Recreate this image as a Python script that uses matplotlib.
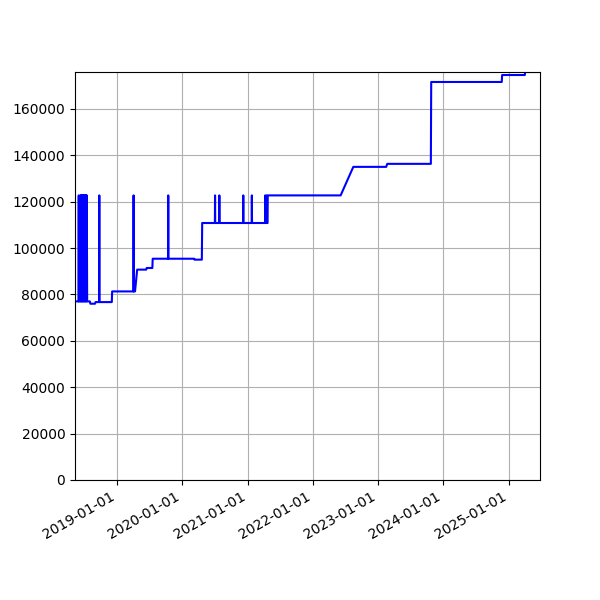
import pandas as pd
import matplotlib
matplotlib.use('Agg')
import matplotlib.pyplot as plt
import matplotlib.dates as mdates

dates = [
    '2018-05-11', '2018-05-31', '2018-06-01', '2018-06-02',
    '2018-06-08', '2018-06-10', '2018-06-12', '2018-06-14', '2018-06-16', '2018-06-18',
    '2018-06-20', '2018-06-22', '2018-06-24', '2018-06-26', '2018-06-28', '2018-06-30',
    '2018-07-02', '2018-07-04', '2018-07-06', '2018-07-08', '2018-07-10', '2018-07-12',
    '2018-07-14', '2018-07-16', '2018-07-18',
    '2018-08-02', '2018-08-05', '2018-08-31', '2018-09-03',
    '2018-09-23', '2018-09-24', '2018-09-25',
    '2018-12-03', '2018-12-05',
    '2019-04-03', '2019-04-04', '2019-04-05', '2019-04-12', '2019-04-24',
    '2019-06-14', '2019-06-16', '2019-07-18', '2019-07-20',
    '2019-10-14', '2019-10-15', '2019-10-16',
    '2020-03-08', '2020-03-10', '2020-04-20', '2020-04-22',
    '2020-07-02', '2020-07-03', '2020-07-04',
    '2020-07-26', '2020-07-27', '2020-07-28',
    '2020-12-07', '2020-12-08', '2020-12-09',
    '2021-01-24', '2021-01-25', '2021-01-26',
    '2021-04-09', '2021-04-10', '2021-04-11',
    '2021-04-16', '2021-04-17', '2021-04-18',
    '2021-04-23', '2021-04-24',
    '2022-06-06', '2022-08-16',
    '2023-02-16', '2023-02-22',
    '2023-10-24', '2023-10-26',
    '2024-11-24', '2024-11-26',
    '2025-04-02', '2025-04-04', '2025-06-26',
]
prices = [
    77000, 77000, 122700, 77000,
    77000, 122700, 77000, 122700, 77000, 122700,
    77000, 122700, 77000, 122700, 77000, 122700,
    77000, 122700, 77000, 122700, 77000, 122700,
    77000, 122700, 77000,
    77000, 76000, 76000, 76700,
    76700, 122700, 76700,
    76700, 81300,
    81300, 122700, 81300, 81300, 90700,
    90700, 91400, 91400, 95400,
    95400, 122700, 95400,
    95400, 95000, 95000, 110800,
    110800, 122700, 110800,
    110800, 122700, 110800,
    110800, 122700, 110800,
    110800, 122700, 110800,
    110800, 122700, 110800,
    110800, 122700, 110800,
    110800, 122700,
    122700, 135000,
    135000, 136300,
    136300, 171600,
    171600, 174600,
    174600, 175900, 175900,
]

x = pd.to_datetime(dates)

fig = plt.figure(figsize=(6, 6), dpi=100)
plt.plot(x, prices, color='blue')
plt.xlim(x.min(), x.max())
plt.ylim(0, max(prices))
plt.gca().xaxis.set_major_locator(mdates.YearLocator())
plt.gca().xaxis.set_major_formatter(mdates.DateFormatter('%Y-%m-%d'))
plt.grid()
fig.autofmt_xdate()
plt.savefig('out.png')
